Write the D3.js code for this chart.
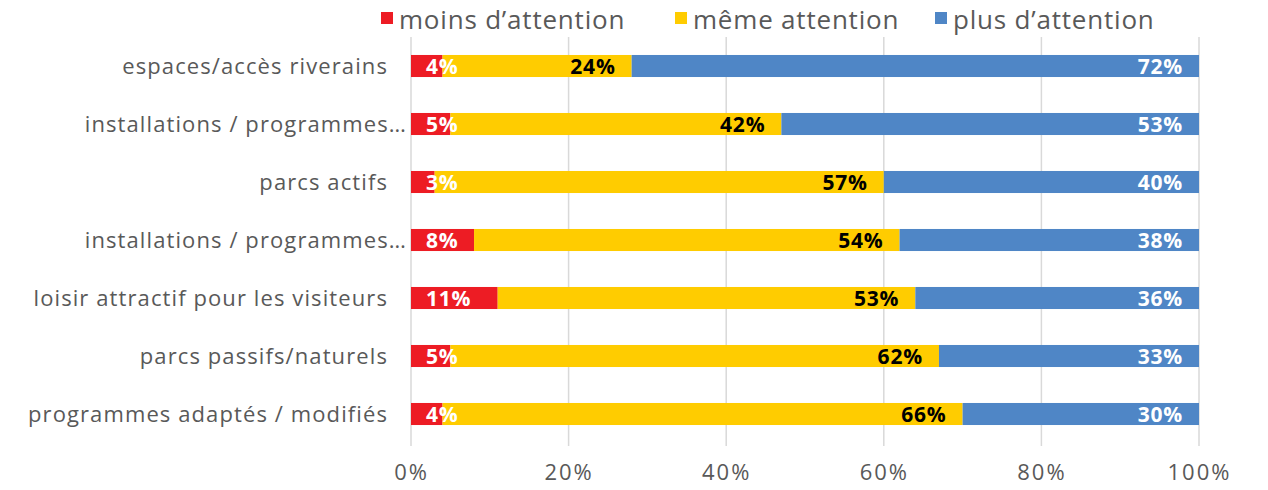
<!DOCTYPE html>
<html>
<head>
<meta charset="utf-8">
<script src="https://cdn.jsdelivr.net/npm/d3@7"></script>
<style>
    body { margin: 0; background: #fff; }
    text { font-family: "Open Sans", Lato, sans-serif; }
</style>
</head>
<body>
<div id="vis"></div>
<script>
// data
var categories = [
    'espaces/accès riverains',
    'installations / programmes…',
    'parcs actifs',
    'installations / programmes… ',
    'loisir attractif pour les visiteurs',
    'parcs passifs/naturels',
    'programmes adaptés / modifiés'
];
var seriesNames = ['moins d’attention', 'même attention', 'plus d’attention'];
var moins = [4, 5, 3, 8, 11, 5, 4];
var meme = [24, 42, 57, 54, 53, 62, 66];
var plus = [72, 53, 40, 38, 36, 33, 30];
var xTicks = [0, 20, 40, 60, 80, 100];

var colors = ['#ED1C24', '#FFCC00', '#4F86C6'];
var labelColors = ['#ffffff', '#000000', '#ffffff'];

var width = 1268, height = 490;
var margin = {left: 411, right: 69, top: 37, bottom: 47};

var svg = d3.select('#vis')
    .append('svg')
        .attr('width', width)
        .attr('height', height);

var x = d3.scaleLinear()
    .domain([0, 100])
    .range([margin.left, width - margin.right]);
var y = d3.scaleBand()
    .domain(categories)
    .range([margin.top, height - margin.bottom])
    .paddingInner(0.62)
    .paddingOuter(0.31);

// gridlines
svg.append('g')
    .selectAll('line')
    .data(xTicks)
    .join('line')
        .attr('x1', function(d) { return x(d); })
        .attr('x2', function(d) { return x(d); })
        .attr('y1', margin.top)
        .attr('y2', height - margin.bottom + 3)
        .attr('stroke', '#d9d9d9')
        .attr('stroke-width', 1.5);

// x axis
var xAxis = svg.append('g')
    .attr('transform', 'translate(0,' + (height - margin.bottom) + ')')
    .call(d3.axisBottom(x).tickValues(xTicks).tickSize(0).tickPadding(21)
        .tickFormat(function(d) { return d + '%'; }));
xAxis.select('.domain').remove();
xAxis.selectAll('text')
    .attr('fill', '#595959')
    .style('font-family', '"Open Sans", sans-serif')
    .style('font-size', '22px')
    .style('letter-spacing', '2px');

// stacked data
var rows = categories.map(function(c, i) {
    return {cat: c, v: [moins[i], meme[i], plus[i]]};
});
var stack = d3.stack().keys([0, 1, 2]).value(function(d, k) { return d.v[k]; });
var layers = stack(rows);

var g = svg.append('g');
layers.forEach(function(layer, k) {
    g.append('g')
        .selectAll('rect')
        .data(layer)
        .join('rect')
            .attr('x', function(d) { return x(d[0]); })
            .attr('width', function(d) { return x(d[1]) - x(d[0]); })
            .attr('y', function(d) { return y(d.data.cat); })
            .attr('height', y.bandwidth())
            .attr('fill', colors[k]);
});

// data labels
layers.forEach(function(layer, k) {
    g.append('g')
        .selectAll('text')
        .data(layer)
        .join('text')
            .attr('x', function(d) { return k == 0 ? x(d[0]) + 15 : x(d[1]) - 16; })
            .attr('y', function(d) { return y(d.data.cat) + y.bandwidth() / 2; })
            .attr('dy', '0.36em')
            .attr('text-anchor', k == 0 ? 'start' : 'end')
            .attr('fill', labelColors[k])
            .style('font-size', '21px')
            .style('font-weight', 'bold')
            .style('letter-spacing', '0.8px')
            .text(function(d) { return d.data.v[k] + '%'; });
});

// category labels
svg.append('g')
    .selectAll('text')
    .data(categories)
    .join('text')
        .attr('x', function(d) { return d.trim().endsWith('…') ? 407 : 388; })
        .attr('y', function(d) { return y(d) + y.bandwidth() / 2; })
        .attr('dy', '0.36em')
        .attr('text-anchor', 'end')
        .attr('fill', '#595959')
        .style('font-size', '22px')
        .style('letter-spacing', '1.1px')
        .text(function(d) { return d.trim(); });

// legend
var legendX = [381, 675, 935];
var legend = svg.append('g')
    .selectAll('g')
    .data(seriesNames)
    .join('g')
        .attr('transform', function(d, i) { return 'translate(' + legendX[i] + ',0)'; });
legend.append('rect')
    .attr('x', 0).attr('y', 12)
    .attr('width', 12).attr('height', 12)
    .attr('fill', function(d, i) { return colors[i]; });
legend.append('text')
    .attr('x', 18).attr('y', 20)
    .attr('dy', '0.36em')
    .attr('fill', '#595959')
    .style('font-size', '26px')
    .style('letter-spacing', '0.8px')
    .text(function(d) { return d; });
</script>
</body>
</html>
